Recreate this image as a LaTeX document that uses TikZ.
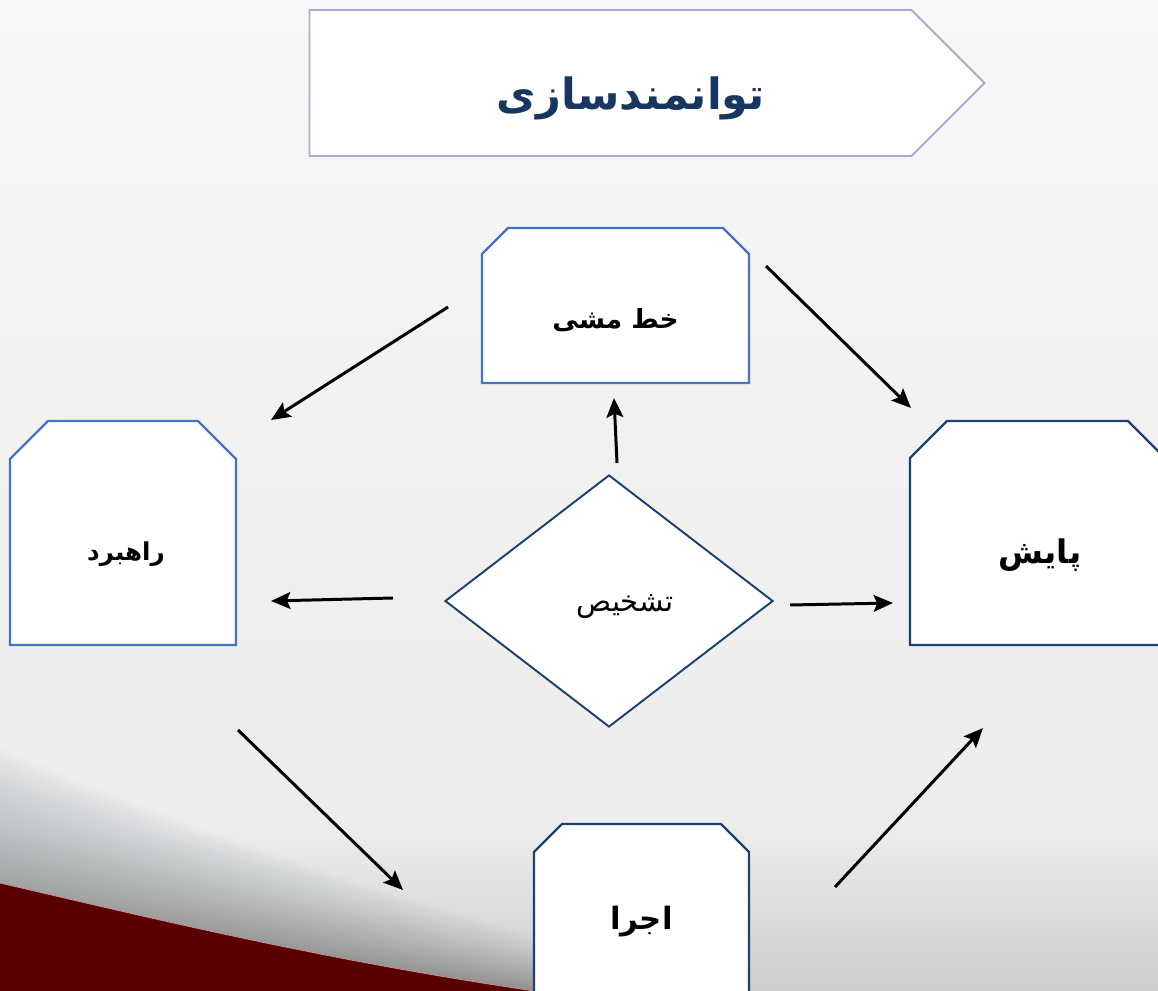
\documentclass[tikz,border=0pt]{standalone}
\usepackage{fontspec}
\newfontfamily\farsi[Script=Arabic]{DejaVu Sans}
\TeXXeTstate=1
\usetikzlibrary{shapes.geometric,shapes.symbols,arrows.meta,calc}
\definecolor{boxblue}{HTML}{4472C4}
\definecolor{boxnavy}{HTML}{1B4170}
\definecolor{titleline}{HTML}{ABABCF}
\definecolor{titletext}{HTML}{17375E}
\definecolor{bgtop}{HTML}{F7F7F7}
\definecolor{bgmid}{HTML}{ECECEA}
\definecolor{bgbottom}{HTML}{CDCDCD}
\definecolor{shadowtone}{HTML}{2A3540}
\definecolor{swoosh}{HTML}{5A0000}
\definecolor{swooshedge}{HTML}{C99090}
\pgfdeclarelayer{back}
\pgfdeclarelayer{mid}
\pgfsetlayers{back,mid,main}
\tikzset{
  box/.style={rectangle, inner sep=0pt, outer sep=0pt},
  boxline/.style={fill=white, line width=1.3pt},
  word/.style={font=\farsi\bfseries\fontsize{#1}{#1}\selectfont},
  flow/.style={-{Stealth[length=11pt,width=9.5pt,inset=2pt]}, line width=1.7pt},
}
% outline with cut top corners round a named node
\newcommand{\chambox}[3]{%
  \draw[boxline, draw=#3] (#1.south west) -- ([yshift=-#2]#1.north west) -- ([xshift=#2]#1.north west)
    -- ([xshift=-#2]#1.north east) -- ([yshift=-#2]#1.north east) -- (#1.south east) -- cycle;}
\begin{document}
\begin{tikzpicture}
\clip (0,0) rectangle (23.16,19.8);
% Background
\begin{pgfonlayer}{back}
\shade[top color=bgtop, bottom color=bgmid] (0,3.2) rectangle (23.16,19.8);
\shade[top color=bgmid, bottom color=bgbottom] (0,-0.01) rectangle (23.16,3.21);
\foreach \i in {1,...,30}
  \fill[shadowtone, opacity=0.012] (0,-0.2) -- (0,{2.14+0.09*\i})
    .. controls (3,{1.45+0.07*\i}) and (7,{0.45+0.05*\i}) .. ({12+0.12*\i},-0.2) -- cycle;
\fill[swoosh] (0,-0.2) -- (0,2.14) .. controls (3,1.45) and (7,0.45) .. (12,-0.2) -- cycle;
\draw[swooshedge, line width=0.5pt] (0,2.14) .. controls (3,1.45) and (7,0.45) .. (12,-0.2);
\end{pgfonlayer}
% Title
\node[signal, signal to=east, signal pointer angle=90, draw=titleline, fill=white,
  line width=1.1pt, minimum width=13.5cm, minimum height=2.92cm, inner sep=0pt,
  label={[word=24.5, text=titletext, xshift=0.41cm, yshift=-0.3cm]center:\beginR توانمندسازی\endR}]
  (title) at (12.21,18.14) {};
% Boxes
\node[box, minimum width=5.34cm, minimum height=3.1cm,
  label={[word=15, yshift=-0.3cm]center:\beginR خط مشی\endR}] (khat) at (12.31,13.69) {};
\node[box, minimum width=4.52cm, minimum height=4.48cm,
  label={[word=14, xshift=0.06cm, yshift=-0.42cm]center:\beginR راهبرد\endR}] (rahbord) at (2.46,9.14) {};
\node[box, minimum width=5.1cm, minimum height=4.48cm,
  label={[word=18.5, xshift=0.05cm, yshift=-0.44cm]center:\beginR پایش\endR}] (payesh) at (20.75,9.14) {};
\node[box, minimum width=4.3cm, minimum height=4.3cm,
  label={[word=17.5, yshift=0.2cm]center:\beginR اجرا\endR}] (ejra) at (12.83,1.17) {};
\begin{pgfonlayer}{mid}
\chambox{khat}{0.52cm}{boxblue}
\chambox{rahbord}{0.76cm}{boxblue}
\chambox{payesh}{0.74cm}{boxnavy}
\chambox{ejra}{0.56cm}{boxnavy}
\end{pgfonlayer}
% Diagnosis
\node[diamond, draw=boxnavy, fill=white, line width=1.1pt, minimum width=6.56cm, minimum height=5.04cm,
  inner sep=0pt, label={[font=\farsi\fontsize{16.5}{18}\selectfont, xshift=0.32cm, yshift=-0.12cm]center:\beginR تشخیص\endR}]
  (diag) at (12.18,7.78) {};
% Arrows
\draw[flow] ($(khat)+(-3.35,-0.03)$) -- ($(rahbord)+(2.96,2.26)$);
\draw[flow] ($(khat)+(3.01,0.79)$) -- ($(payesh)+(-2.53,2.5)$);
\draw[flow] ($(diag)+(0.16,2.76)$) -- ($(khat)+(-0.03,-1.85)$);
\draw[flow] ($(diag)+(-4.32,0.06)$) -- ($(rahbord)+(2.96,-1.36)$);
\draw[flow] ($(diag)+(3.62,-0.08)$) -- ($(payesh)+(-2.89,-1.4)$);
\draw[flow] ($(rahbord)+(2.3,-3.94)$) -- ($(ejra)+(-4.77,0.83)$);
\draw[flow] ($(ejra)+(3.87,0.89)$) -- ($(payesh)+(-1.09,-3.9)$);
\end{tikzpicture}
\end{document}
